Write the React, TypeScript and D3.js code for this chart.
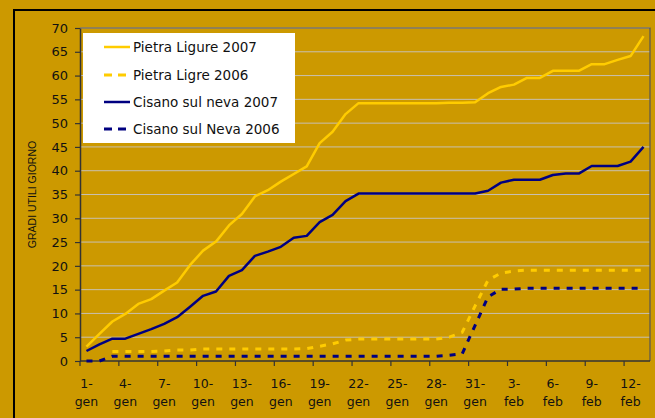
import { useEffect, useRef } from 'react';
import * as d3 from 'd3';

const days = [
  "1-gen", "2-gen", "3-gen", "4-gen", "5-gen", "6-gen", "7-gen", "8-gen", "9-gen", "10-gen",
  "11-gen", "12-gen", "13-gen", "14-gen", "15-gen", "16-gen", "17-gen", "18-gen", "19-gen", "20-gen",
  "21-gen", "22-gen", "23-gen", "24-gen", "25-gen", "26-gen", "27-gen", "28-gen", "29-gen", "30-gen",
  "31-gen", "1-feb", "2-feb", "3-feb", "4-feb", "5-feb", "6-feb", "7-feb", "8-feb", "9-feb",
  "10-feb", "11-feb", "12-feb", "13-feb"
];

const pietra2007 = [
  3.0, 5.7, 8.3, 9.9, 12.0, 13.0, 14.8, 16.5, 20.2, 23.2,
  25.1, 28.5, 30.9, 34.6, 35.9, 37.7, 39.3, 40.9, 45.8, 48.2,
  51.9, 54.2, 54.2, 54.2, 54.2, 54.2, 54.2, 54.2, 54.3, 54.3,
  54.4, 56.3, 57.6, 58.1, 59.5, 59.5, 61.0, 61.0, 61.0, 62.4,
  62.4, 63.3, 64.1, 68.3
];

const pietra2006 = [
  null, null, 2.0, 2.0, 2.0, 2.0, 2.1, 2.3, 2.3, 2.5,
  2.5, 2.5, 2.5, 2.5, 2.5, 2.5, 2.5, 2.6, 3.1, 3.6,
  4.4, 4.6, 4.6, 4.6, 4.6, 4.6, 4.6, 4.6, 5.0, 6.0,
  11.6, 17.0, 18.5, 18.9, 19.1, 19.1, 19.1, 19.1, 19.1, 19.1,
  19.1, 19.1, 19.1, 19.1
];

const cisano2007 = [
  2.1, 3.5, 4.7, 4.7, 5.7, 6.7, 7.8, 9.2, 11.4, 13.7,
  14.6, 17.9, 19.1, 22.1, 23.0, 24.0, 25.9, 26.3, 29.2, 30.7,
  33.6, 35.2, 35.2, 35.2, 35.2, 35.2, 35.2, 35.2, 35.2, 35.2,
  35.2, 35.8, 37.5, 38.1, 38.1, 38.1, 39.1, 39.4, 39.4, 41.0,
  41.0, 41.0, 41.9, 45.0
];

const cisano2006 = [
  0, 0, 1.0, 1.0, 1.0, 1.0, 1.0, 1.0, 1.0, 1.0,
  1.0, 1.0, 1.0, 1.0, 1.0, 1.0, 1.0, 1.0, 1.0, 1.0,
  1.0, 1.0, 1.0, 1.0, 1.0, 1.0, 1.0, 1.0, 1.2, 1.5,
  7.5, 13.5, 15.1, 15.1, 15.3, 15.3, 15.3, 15.3, 15.3, 15.3,
  15.3, 15.3, 15.3, 15.3
];

const seriesNames = ["Pietra Ligure 2007", "Pietra Ligre 2006", "Cisano sul neva 2007", "Cisano sul Neva 2006"];
const yTicks = [0, 5, 10, 15, 20, 25, 30, 35, 40, 45, 50, 55, 60, 65, 70];
const labelEvery = 3;

const App = () => {
  const ref = useRef(null);

  useEffect(() => {
    document.body.style.margin = "0";
    const W = 655, H = 418;
    const bg = "#cc9900";
    const left = 80, right = 650, top = 28, bottom = 361;
    const font = "'DejaVu Sans', Verdana, sans-serif";

    d3.select(ref.current).selectAll("svg").remove();
    const svg = d3.select(ref.current).append("svg")
      .attr("width", W).attr("height", H)
      .style("display", "block");

    svg.append("rect").attr("width", W).attr("height", H).attr("fill", bg);
    // chart area frame
    svg.append("rect")
      .attr("x", 14).attr("y", 10).attr("width", 700).attr("height", 500)
      .attr("fill", bg).attr("stroke", "#000").attr("stroke-width", 2);

    const x = d3.scaleBand().domain(days).range([left, right]).padding(0);
    const cx = (d) => x(d) + x.bandwidth() / 2;
    const y = d3.scaleLinear().domain([0, 70]).range([bottom, top]);

    // gridlines
    svg.append("g").selectAll("line").data(yTicks.filter(t => t > 0)).join("line")
      .attr("x1", left).attr("x2", right)
      .attr("y1", d => y(d)).attr("y2", d => y(d))
      .attr("stroke", "#c8c0b0").attr("stroke-width", 1);

    // plot border (top, right)
    svg.append("path")
      .attr("d", `M${left},${top}H${right}V${bottom}`)
      .attr("fill", "none").attr("stroke", "#555").attr("stroke-width", 1.2);

    // y axis
    const yAxis = svg.append("g").attr("transform", `translate(${left},0)`)
      .call(d3.axisLeft(y).tickValues(yTicks).tickSize(5).tickSizeOuter(0).tickPadding(7));
    yAxis.select(".domain").attr("stroke", "#333").attr("stroke-width", 1.5);
    yAxis.selectAll(".tick line").attr("stroke", "#333").attr("stroke-width", 1.2);
    yAxis.selectAll(".tick text").attr("font-family", font).attr("font-size", 13).attr("fill", "#111");

    // x axis: ticks on category boundaries, labels centred on category
    const boundaries = d3.range(0, days.length + 1, labelEvery).map(i => left + i * x.bandwidth());
    const xg = svg.append("g");
    xg.append("line").attr("x1", left).attr("x2", right).attr("y1", bottom).attr("y2", bottom)
      .attr("stroke", "#333").attr("stroke-width", 1.5);
    xg.selectAll("line.tk").data(boundaries.filter(b => b < right - 1)).join("line")
      .attr("class", "tk")
      .attr("x1", d => d).attr("x2", d => d).attr("y1", bottom).attr("y2", bottom + 5)
      .attr("stroke", "#333").attr("stroke-width", 1.2);
    const labelled = days.filter((d, i) => i % labelEvery === 0);
    const lbl = xg.selectAll("text").data(labelled).join("text")
      .attr("text-anchor", "middle")
      .attr("font-family", font).attr("font-size", 12.5).attr("fill", "#111");
    lbl.append("tspan").attr("x", d => cx(d)).attr("y", 388).text(d => d.split("-")[0] + "-");
    lbl.append("tspan").attr("x", d => cx(d)).attr("y", 406).text(d => d.split("-")[1]);

    // y axis title
    svg.append("text")
      .attr("transform", `translate(36,${(top + bottom) / 2}) rotate(-90)`)
      .attr("text-anchor", "middle")
      .attr("font-family", "'Liberation Sans', Arial, sans-serif").attr("font-size", 10.5)
      .attr("fill", "#111")
      .text("GRADI UTILI GIORNO");

    const series = [
      { name: seriesNames[0], values: pietra2007, color: "#ffcc00", dash: null, width: 2.5 },
      { name: seriesNames[1], values: pietra2006, color: "#ffcc00", dash: "6,7", width: 3 },
      { name: seriesNames[2], values: cisano2007, color: "#000080", dash: null, width: 2.5 },
      { name: seriesNames[3], values: cisano2006, color: "#000080", dash: "6,7", width: 3 },
    ];

    const line = d3.line()
      .defined(d => d[1] !== null)
      .x(d => cx(d[0]))
      .y(d => y(d[1]));

    series.forEach(s => {
      svg.append("path")
        .datum(days.map((d, i) => [d, s.values[i]]))
        .attr("fill", "none")
        .attr("stroke", s.color)
        .attr("stroke-width", s.width)
        .attr("stroke-dasharray", s.dash)
        .attr("stroke-linejoin", "round")
        .attr("d", line);
    });

    // legend
    const lg = svg.append("g");
    lg.append("rect").attr("x", 83).attr("y", 33).attr("width", 212).attr("height", 110).attr("fill", "#fff");
    const rowY = [47, 75, 102, 129];
    series.forEach((s, i) => {
      lg.append("line")
        .attr("x1", 104).attr("x2", 130).attr("y1", rowY[i]).attr("y2", rowY[i])
        .attr("stroke", s.color).attr("stroke-width", s.width)
        .attr("stroke-dasharray", s.dash ? "8,6" : null);
      lg.append("text")
        .attr("x", 133).attr("y", rowY[i]).attr("dy", "0.36em")
        .attr("font-family", font).attr("font-size", 13.5).attr("fill", "#111")
        .text(s.name);
    });
  }, []);

  return <div ref={ref} />;
};

export default App;
